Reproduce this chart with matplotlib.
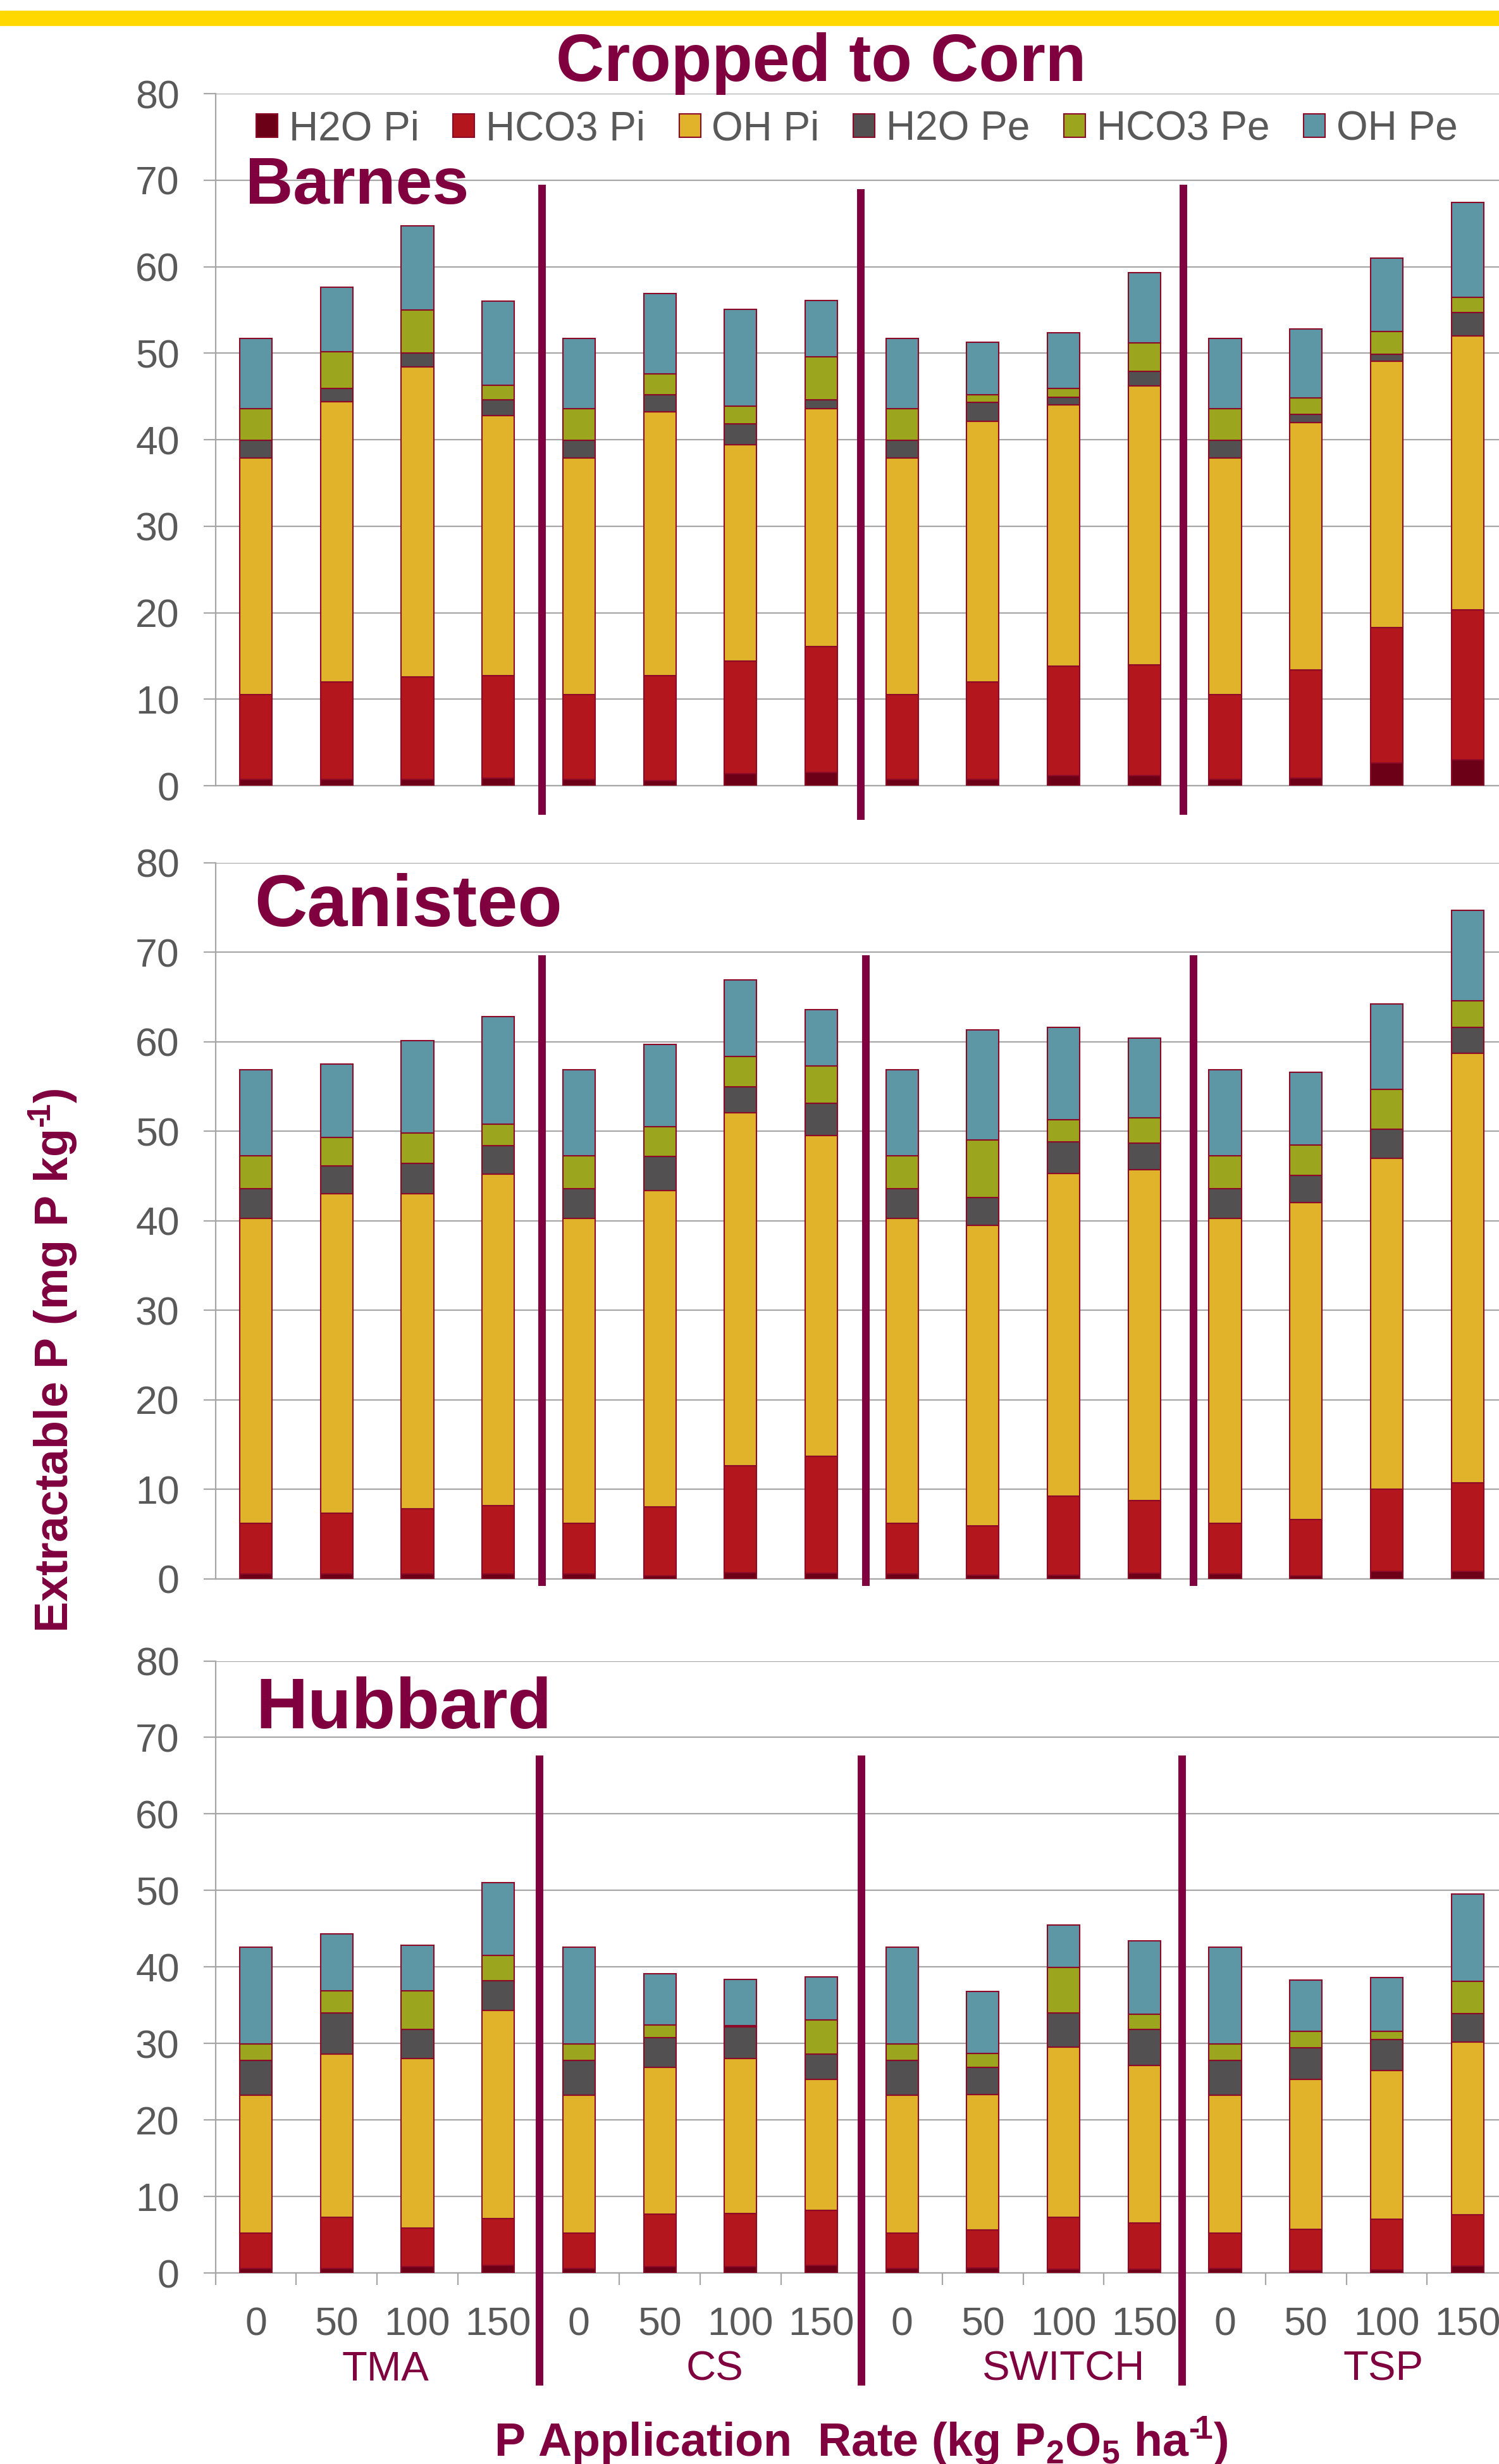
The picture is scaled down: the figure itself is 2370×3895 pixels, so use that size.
import numpy as np
import matplotlib.pyplot as plt
from matplotlib.patches import Patch, Rectangle

plt.rcParams['font.family'] = ['Liberation Sans', 'DejaVu Sans']
plt.rcParams['mathtext.fontset'] = 'custom'
plt.rcParams['mathtext.rm'] = 'Liberation Sans'
plt.rcParams['mathtext.bf'] = 'Liberation Sans:bold'
plt.rcParams['mathtext.default'] = 'bf'

# categories
rates = ['0', '50', '100', '150'] * 4
sources = ['TMA', 'CS', 'SWITCH', 'TSP']
fractions = ['H2O Pi', 'HCO3 Pi', 'OH Pi', 'H2O Pe', 'HCO3 Pe', 'OH Pe']
colors = ['#6B0017', '#B3171D', '#E0B32B', '#525050', '#9BA61E', '#5D97A6']

# Barnes (mg P/kg), order TMA 0-150, CS 0-150, SWITCH 0-150, TSP 0-150
barnes_h2o_pi = [0.7, 0.7, 0.7, 0.9, 0.7, 0.6, 1.4, 1.5, 0.7, 0.7, 1.2, 1.2, 0.7, 0.9, 2.6, 3.0]
barnes_hco3_pi = [9.8, 11.3, 11.9, 11.8, 9.8, 12.1, 13.0, 14.6, 9.8, 11.3, 12.6, 12.8, 9.8, 12.5, 15.7, 17.3]
barnes_oh_pi = [27.4, 32.4, 35.8, 30.1, 27.4, 30.5, 25.0, 27.5, 27.4, 30.1, 30.2, 32.2, 27.4, 28.6, 30.8, 31.7]
barnes_h2o_pe = [2.0, 1.5, 1.6, 1.8, 2.0, 2.0, 2.4, 1.0, 2.0, 2.2, 0.9, 1.7, 2.0, 0.9, 0.8, 2.7]
barnes_hco3_pe = [3.7, 4.3, 5.0, 1.7, 3.7, 2.4, 2.1, 5.0, 3.7, 0.9, 1.0, 3.3, 3.7, 1.9, 2.6, 1.8]
barnes_oh_pe = [8.1, 7.4, 9.7, 9.7, 8.1, 9.3, 11.2, 6.5, 8.1, 6.1, 6.5, 8.1, 8.1, 8.0, 8.5, 10.9]

# Canisteo
canisteo_h2o_pi = [0.5, 0.5, 0.5, 0.5, 0.5, 0.3, 0.7, 0.6, 0.5, 0.4, 0.4, 0.6, 0.5, 0.3, 0.8, 0.8]
canisteo_hco3_pi = [5.7, 6.8, 7.3, 7.7, 5.7, 7.7, 11.9, 13.1, 5.7, 5.5, 8.8, 8.1, 5.7, 6.3, 9.2, 9.9]
canisteo_oh_pi = [34.1, 35.7, 35.2, 37.0, 34.1, 35.4, 39.5, 35.8, 34.1, 33.6, 36.1, 37.0, 34.1, 35.4, 37.0, 48.0]
canisteo_h2o_pe = [3.3, 3.1, 3.4, 3.2, 3.3, 3.8, 2.9, 3.6, 3.3, 3.1, 3.5, 3.0, 3.3, 3.1, 3.2, 2.9]
canisteo_hco3_pe = [3.7, 3.2, 3.4, 2.4, 3.7, 3.3, 3.4, 4.2, 3.7, 6.4, 2.5, 2.8, 3.7, 3.4, 4.5, 3.0]
canisteo_oh_pe = [9.6, 8.2, 10.3, 12.0, 9.6, 9.2, 8.5, 6.3, 9.6, 12.3, 10.3, 8.9, 9.6, 8.1, 9.5, 10.1]

# Hubbard
hubbard_h2o_pi = [0.6, 0.6, 0.8, 1.0, 0.6, 0.8, 0.8, 1.0, 0.6, 0.7, 0.5, 0.5, 0.6, 0.3, 0.4, 0.9]
hubbard_hco3_pi = [4.6, 6.7, 5.1, 6.1, 4.6, 6.9, 7.0, 7.2, 4.6, 4.9, 6.8, 6.0, 4.6, 5.4, 6.6, 6.7]
hubbard_oh_pi = [18.0, 21.3, 22.1, 27.2, 18.0, 19.2, 20.2, 17.1, 18.0, 17.7, 22.2, 20.6, 18.0, 19.6, 19.5, 22.6]
hubbard_h2o_pe = [4.6, 5.4, 3.8, 3.9, 4.6, 3.9, 4.2, 3.3, 4.6, 3.6, 4.5, 4.7, 4.6, 4.1, 4.0, 3.7]
hubbard_hco3_pe = [2.1, 2.9, 5.1, 3.3, 2.1, 1.6, 0.1, 4.5, 2.1, 1.8, 5.9, 2.0, 2.1, 2.2, 1.1, 4.2]
hubbard_oh_pe = [12.7, 7.4, 5.9, 9.5, 12.7, 6.7, 6.1, 5.6, 12.7, 8.1, 5.6, 9.6, 12.7, 6.7, 7.0, 11.4]

MAROON = '#80003F'
GRID = '#A6A6A6'
TEXT_GRAY = '#595959'
EDGE = '#8C0A28'

W, H = 2370, 3895
fig = plt.figure(figsize=(W / 100, H / 100), dpi=100)


def px_axes(top, bottom, left=340.7, right=2384.0):
    return fig.add_axes([left / W, 1 - bottom / H, (right - left) / W, (bottom - top) / H])


def draw_panel(ax, layers, name, name_pos, name_size, seps, show_x):
    x = np.arange(len(rates))
    bottom = np.zeros(len(rates))
    for vals, c in zip(layers, colors):
        vals = np.array(vals)
        ax.bar(x, vals, bottom=bottom, width=0.4, color=c, edgecolor=EDGE,
               linewidth=1.5, zorder=3)
        bottom += vals
    ax.set_xlim(-0.5, 15.5)
    ax.set_ylim(0, 80)
    ax.set_yticks(np.arange(0, 81, 10))
    ax.yaxis.grid(True, color=GRID, linewidth=1.6)
    ax.set_axisbelow(True)
    for s in ['top', 'right']:
        ax.spines[s].set_visible(False)
    ax.spines['left'].set_color(GRID)
    ax.spines['left'].set_linewidth(1.6)
    ax.spines['bottom'].set_color(GRID)
    ax.spines['bottom'].set_linewidth(1.6)
    ax.tick_params(axis='y', direction='out', length=14, width=1.6, color=GRID,
                   labelsize=45, labelcolor=TEXT_GRAY, pad=27)
    if show_x:
        ax.set_xticks(x)
        ax.set_xticklabels(rates)
        ax.set_xticks(np.arange(-0.5, 16, 1), minor=True)
        ax.tick_params(axis='x', which='major', length=0, labelsize=45,
                       labelcolor=TEXT_GRAY, pad=38)
        ax.tick_params(axis='x', which='minor', length=14, width=1.6, color=GRID)
    else:
        ax.set_xticks([])
    ax.text(name_pos[0], name_pos[1], name, transform=ax.transAxes, fontsize=name_size,
            fontweight='bold', color=MAROON, va='baseline', ha='left', zorder=5)
    for sx, y0, y1 in seps:
        ax.plot([sx, sx], [y0, y1], color=MAROON, linewidth=8.6, solid_capstyle='butt',
                clip_on=False, zorder=6)


ax1 = px_axes(148.2, 1242.0)
draw_panel(ax1, [barnes_h2o_pi, barnes_hco3_pi, barnes_oh_pi, barnes_h2o_pe,
                 barnes_hco3_pe, barnes_oh_pe],
           'Barnes', (0.0232, 0.8411), 75,
           [(3.54, 69.5, -3.4), (7.49, 69.0, -3.95), (11.48, 69.5, -3.4)], False)

ax2 = px_axes(1364.0, 2495.5)
draw_panel(ax2, [canisteo_h2o_pi, canisteo_hco3_pi, canisteo_oh_pi, canisteo_h2o_pe,
                 canisteo_hco3_pe, canisteo_oh_pe],
           'Canisteo', (0.030, 0.9116), 83,
           [(3.54, 69.7, -0.8), (7.55, 69.7, -0.8), (11.61, 69.7, -0.8)], False)

ax3 = px_axes(2625.5, 3593.0)
draw_panel(ax3, [hubbard_h2o_pi, hubbard_hco3_pi, hubbard_oh_pi, hubbard_h2o_pe,
                 hubbard_hco3_pe, hubbard_oh_pe],
           'Hubbard', (0.031, 0.8899), 82,
           [(3.51, 67.6, -14.7), (7.50, 67.6, -14.7), (11.47, 67.6, -14.7)], True)

# source group labels under the bottom panel
for lx, lab in zip([1.60, 5.68, 10.0, 13.96], sources):
    ax3.text(lx, -0.1757, lab, transform=ax3.get_xaxis_transform(), fontsize=47,
             color=MAROON, ha='center', va='baseline')

# yellow band at the top
fig.add_artist(Rectangle((0, 1 - 40 / H), 1, 23 / H, transform=fig.transFigure,
                         color='#FFD800', zorder=1))

fig.text(1298 / W, 1 - 128 / H, 'Cropped to Corn', fontsize=76, fontweight='bold',
         color=MAROON, ha='center', va='baseline')

handles = [Patch(facecolor=c, edgecolor=EDGE, linewidth=1.5) for c in colors]
fig.legend(handles, fractions, loc='center left', bbox_to_anchor=(405 / W, 1 - 204 / H),
           ncol=6, frameon=False, fontsize=46, handlelength=0.53, handleheight=0.53,
           handletextpad=0.28, columnspacing=0.84, borderpad=0, borderaxespad=0,
           labelcolor=TEXT_GRAY)

fig.text(84 / W, 1 - 2151 / H, 'Extractable P (mg P kg$^{\u2010\\!1}$)', rotation=90,
         fontsize=53, fontweight='bold', color=MAROON, ha='center', va='center')
fig.text(1361 / W, 1 - 3883 / H, 'P Application  Rate (kg P$_2$O$_5$ ha$^{\u2010\\!1}$)',
         fontsize=53, fontweight='bold', color=MAROON, ha='center', va='baseline')

fig.savefig('out.png', dpi=100, facecolor='white')
